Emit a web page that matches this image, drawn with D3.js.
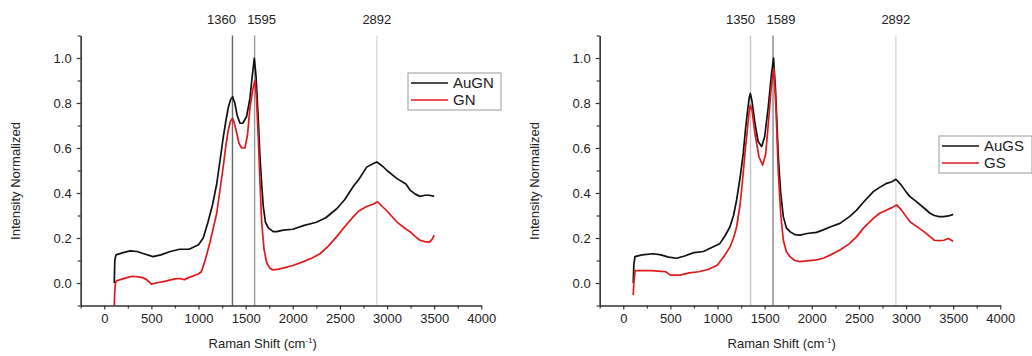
<!DOCTYPE html>
<html>
<head>
<meta charset="utf-8">
<script src="https://cdn.jsdelivr.net/npm/d3@7"></script>
<style>
  body { margin: 0; background: #fff; }
  svg { display: block; font-family: "Liberation Sans", Arial, sans-serif; }
</style>
</head>
<body>
<svg id="chart" width="1032" height="356"></svg>
<script>
// values: [Raman shift (cm-1), normalized intensity]
var auGN = [[106,0.0],[112,0.10],[124,0.125],[200,0.135],[274,0.143],[350,0.14],[420,0.13],[517,0.117],
  [600,0.125],[700,0.14],[800,0.15],[900,0.15],[950,0.16],[1000,0.17],[1050,0.20],[1100,0.27],[1150,0.35],
  [1193,0.44],[1230,0.55],[1263,0.65],[1290,0.72],[1316,0.78],[1340,0.815],[1362,0.828],[1385,0.80],
  [1410,0.745],[1440,0.71],[1470,0.71],[1510,0.74],[1545,0.82],[1570,0.92],[1592,0.999],[1610,0.92],
  [1630,0.76],[1652,0.56],[1670,0.44],[1687,0.34],[1710,0.27],[1740,0.245],[1793,0.228],[1829,0.228],
  [1900,0.235],[2000,0.239],[2112,0.255],[2250,0.27],[2350,0.29],[2466,0.33],[2550,0.37],[2643,0.43],
  [2700,0.46],[2784,0.515],[2850,0.53],[2892,0.538],[2950,0.52],[3000,0.50],[3102,0.465],[3200,0.44],
  [3244,0.413],[3300,0.395],[3350,0.385],[3400,0.39],[3450,0.39],[3500,0.385]];

var gN = [[106,-0.10],[110,-0.05],[118,0.0],[130,0.01],[170,0.015],[250,0.025],[300,0.03],[400,0.025],
  [450,0.015],[500,-0.005],[550,0.0],[650,0.008],[750,0.018],[800,0.02],[850,0.015],[900,0.025],[1000,0.04],
  [1030,0.05],[1070,0.10],[1121,0.18],[1160,0.25],[1193,0.31],[1230,0.42],[1263,0.52],[1290,0.61],
  [1316,0.68],[1340,0.72],[1362,0.732],[1380,0.71],[1405,0.667],[1430,0.62],[1458,0.60],[1493,0.60],
  [1520,0.66],[1546,0.78],[1575,0.86],[1599,0.90],[1615,0.82],[1635,0.636],[1650,0.47],[1670,0.27],
  [1695,0.15],[1723,0.09],[1758,0.065],[1793,0.058],[1850,0.062],[1950,0.072],[2000,0.078],[2112,0.095],
  [2200,0.11],[2289,0.13],[2380,0.165],[2466,0.206],[2550,0.25],[2643,0.295],[2700,0.32],[2784,0.34],
  [2850,0.35],[2900,0.361],[2950,0.34],[3000,0.32],[3102,0.272],[3200,0.24],[3244,0.228],[3300,0.206],
  [3350,0.19],[3400,0.184],[3450,0.182],[3480,0.195],[3500,0.213]];

var auGS = [[106,0.0],[112,0.08],[124,0.117],[200,0.125],[318,0.13],[400,0.125],[480,0.115],[566,0.11],
  [650,0.12],[750,0.135],[850,0.14],[900,0.15],[1000,0.17],[1026,0.176],[1080,0.21],[1132,0.25],[1170,0.30],
  [1203,0.37],[1240,0.47],[1273,0.576],[1296,0.68],[1316,0.755],[1335,0.82],[1348,0.843],[1365,0.81],
  [1397,0.71],[1430,0.63],[1468,0.606],[1500,0.65],[1539,0.784],[1570,0.92],[1594,1.0],[1615,0.86],
  [1645,0.56],[1670,0.40],[1698,0.295],[1730,0.245],[1769,0.228],[1820,0.215],[1875,0.213],[1950,0.22],
  [2050,0.225],[2122,0.236],[2200,0.25],[2299,0.265],[2400,0.295],[2476,0.324],[2550,0.36],[2653,0.406],
  [2720,0.425],[2795,0.443],[2850,0.45],[2893,0.461],[2950,0.435],[3000,0.405],[3042,0.384],[3100,0.365],
  [3200,0.33],[3254,0.31],[3300,0.30],[3350,0.295],[3400,0.295],[3450,0.298],[3500,0.305]];

var gS = [[106,-0.053],[112,0.0],[125,0.055],[200,0.055],[300,0.055],[400,0.052],[450,0.05],[500,0.035],
  [600,0.035],[700,0.045],[800,0.05],[900,0.06],[1000,0.08],[1026,0.095],[1080,0.125],[1132,0.16],
  [1170,0.20],[1203,0.25],[1240,0.35],[1273,0.49],[1296,0.60],[1316,0.68],[1335,0.76],[1348,0.79],
  [1365,0.77],[1397,0.665],[1440,0.56],[1479,0.524],[1510,0.57],[1539,0.71],[1570,0.87],[1597,0.954],
  [1620,0.78],[1645,0.49],[1670,0.31],[1698,0.19],[1730,0.14],[1769,0.117],[1820,0.10],[1875,0.095],
  [1950,0.098],[2050,0.103],[2122,0.11],[2200,0.125],[2299,0.147],[2400,0.175],[2476,0.206],[2550,0.245],
  [2653,0.287],[2720,0.31],[2795,0.324],[2850,0.335],[2900,0.347],[2950,0.325],[3042,0.272],[3100,0.255],
  [3200,0.225],[3254,0.206],[3300,0.19],[3350,0.188],[3400,0.19],[3450,0.198],[3480,0.19],[3500,0.185]];

var peaksLeft = [1360, 1595, 2892];
var peaksRight = [1350, 1589, 2892];
var xTicks = [0, 500, 1000, 1500, 2000, 2500, 3000, 3500, 4000];
var yTicks = [0.0, 0.2, 0.4, 0.6, 0.8, 1.0];

var svg = d3.select("#chart");
svg.append("rect").attr("width", 1032).attr("height", 356).attr("fill", "#fff");

function drawPanel(left, series, names, peaks, peakColors, peakDx, legendPos) {
  var x = d3.scaleLinear().domain([-250, 4000]).range([left, left + 400.6]);
  var y = d3.scaleLinear().domain([-0.1, 1.1]).range([305.5, 35.5]);
  var g = svg.append("g");

  // peak marker lines
  peaks.forEach(function (p, i) {
    g.append("line")
      .attr("x1", x(p)).attr("x2", x(p))
      .attr("y1", y(1.1)).attr("y2", y(-0.1))
      .attr("stroke", peakColors[i])
      .attr("stroke-width", 1.4);
    g.append("text")
      .attr("x", x(p) + peakDx[i])
      .attr("y", 24)
      .attr("text-anchor", "middle")
      .attr("font-size", "13px")
      .attr("fill", "#222")
      .text(p);
  });

  var line = d3.line().x(function (d) { return x(d[0]); }).y(function (d) { return y(d[1]); });
  var colors = ["#111", "#e3181d"];
  series.forEach(function (s, i) {
    g.append("path")
      .datum(s)
      .attr("d", line)
      .attr("fill", "none")
      .attr("stroke", colors[i])
      .attr("stroke-width", 1.7)
      .attr("stroke-linejoin", "round");
  });

  // axes
  var xAxis = g.append("g").attr("transform", "translate(0," + y(-0.1) + ")")
    .call(d3.axisBottom(x).tickValues(xTicks).tickFormat(d3.format("d")).tickSize(4).tickSizeOuter(0).tickPadding(4));
  var xMinor = g.append("g").attr("transform", "translate(0," + y(-0.1) + ")")
    .call(d3.axisBottom(x).tickValues(d3.range(-250, 4001, 500)).tickSize(3).tickSizeOuter(0).tickFormat(""));
  var yAxis = g.append("g").attr("transform", "translate(" + x(-250) + ",0)")
    .call(d3.axisLeft(y).tickValues(yTicks).tickFormat(d3.format(".1f")).tickSize(4).tickSizeOuter(0).tickPadding(5));
  var yMinor = g.append("g").attr("transform", "translate(" + x(-250) + ",0)")
    .call(d3.axisLeft(y).tickValues([-0.1, 0.1, 0.3, 0.5, 0.7, 0.9, 1.1]).tickSize(3).tickSizeOuter(0).tickFormat(""));
  [xAxis, xMinor, yAxis, yMinor].forEach(function (a) {
    a.selectAll("path,line").attr("stroke", "#333").attr("stroke-width", 1.2);
    a.selectAll("text").attr("font-size", "13px").attr("fill", "#222")
      .attr("font-family", "Liberation Sans, Arial, sans-serif");
  });

  g.append("text")
    .attr("x", left + 182)
    .attr("y", 348)
    .attr("text-anchor", "middle")
    .attr("font-size", "13px")
    .attr("fill", "#222")
    .html("Raman Shift (cm<tspan dy='-5' font-size='8px'>-1</tspan><tspan dy='5'>)</tspan>");

  g.append("text")
    .attr("transform", "translate(" + (left - 61) + ",181) rotate(-90)")
    .attr("text-anchor", "middle")
    .attr("font-size", "13px")
    .attr("fill", "#222")
    .text("Intensity Normalized");

  // legend
  var lg = g.append("g").attr("transform", "translate(" + legendPos[0] + "," + legendPos[1] + ")");
  lg.append("rect")
    .attr("width", 93).attr("height", 37)
    .attr("fill", "#fff").attr("stroke", "#999").attr("stroke-width", 1);
  names.forEach(function (n, i) {
    lg.append("line")
      .attr("x1", 3).attr("x2", 40)
      .attr("y1", 10 + i * 17).attr("y2", 10 + i * 17)
      .attr("stroke", colors[i]).attr("stroke-width", 1.6);
    lg.append("text")
      .attr("x", 45).attr("y", 15 + i * 17)
      .attr("font-size", "15px")
      .attr("fill", "#222")
      .text(n);
  });
}

drawPanel(80.7, [auGN, gN], ["AuGN", "GN"], peaksLeft, ["#666", "#999", "#d8d8d8"], [-11, 7, 0], [408, 73]);
drawPanel(599.7, [auGS, gS], ["AuGS", "GS"], peaksRight, ["#c4c4c4", "#888", "#d8d8d8"], [-10, 8, 0], [939, 136]);
</script>
</body>
</html>
